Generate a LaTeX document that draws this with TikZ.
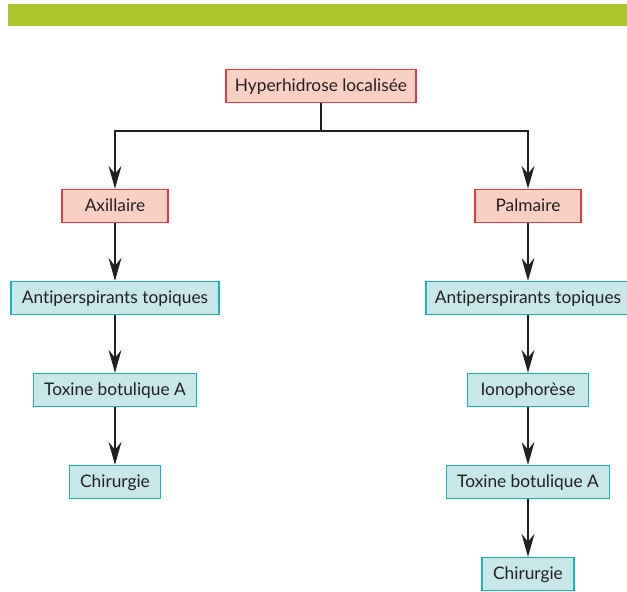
\documentclass[tikz,border=0pt]{standalone}
\usepackage{fontspec}
\setmainfont{Lato}[Ligatures={NoCommon}]
\usetikzlibrary{arrows.meta,positioning}
\definecolor{bargreen}{RGB}{173,196,43}
\definecolor{rosefill}{RGB}{248,208,196}
\definecolor{roseline}{RGB}{229,57,75}
\definecolor{aquafill}{RGB}{200,231,232}
\definecolor{aqualine}{RGB}{29,179,181}
\definecolor{inkdark}{RGB}{35,31,32}

\begin{document}
\begin{tikzpicture}[
  x=1pt,y=-1pt,
  node distance=57.6pt,
  box/.style={
    line width=1.4pt,
    minimum height=33pt,
    text height=13pt,
    text depth=2pt,
    inner sep=2pt,
    align=center,
    text=inkdark,
    font=\fontsize{17.3}{19}\selectfont
  },
  site/.style={box,fill=rosefill,draw=roseline},
  care/.style={box,fill=aquafill,draw=aqualine},
  flow/.style={-{Stealth[length=23pt,width=13pt,inset=8pt]},line width=1.2pt,draw=inkdark}
]
\useasboundingbox (0,0) rectangle (627,592);
\fill[bargreen] (8,4) rectangle (627,26);

\node[site,minimum width=190pt] (hyper) at (321,86) {Hyperhidrose localisée};
\node[site,minimum width=106pt] (axil) at (115,206) {Axillaire};
\node[site,minimum width=106pt] (palm) at (528,206) {Palmaire};

% axillary side
\node[care,minimum width=208pt,below=of axil] (antiL) {Antiperspirants topiques};
\node[care,minimum width=163pt,below=of antiL] (toxL) {Toxine botulique A};
\node[care,minimum width=91pt,below=of toxL] (chirL) {Chirurgie};

% palmar side
\node[care,minimum width=204pt,below=of palm] (antiR) {Antiperspirants topiques};
\node[care,minimum width=121pt,below=of antiR] (iono) {Ionophorèse};
\node[care,minimum width=163pt,below=of iono] (toxR) {Toxine botulique A};
\node[care,minimum width=92pt,below=of toxR] (chirR) {Chirurgie};

\coordinate (split) at (321,131);
\draw[line width=1.2pt,draw=inkdark] (hyper) -- (split);
\draw[flow] (split) -| (axil);
\draw[flow] (split) -| (palm);
\draw[flow] (axil) -- (antiL);
\draw[flow] (antiL) -- (toxL);
\draw[flow] (toxL) -- (chirL);
\draw[flow] (palm) -- (antiR);
\draw[flow] (antiR) -- (iono);
\draw[flow] (iono) -- (toxR);
\draw[flow] (toxR) -- (chirR);
\end{tikzpicture}
\end{document}
